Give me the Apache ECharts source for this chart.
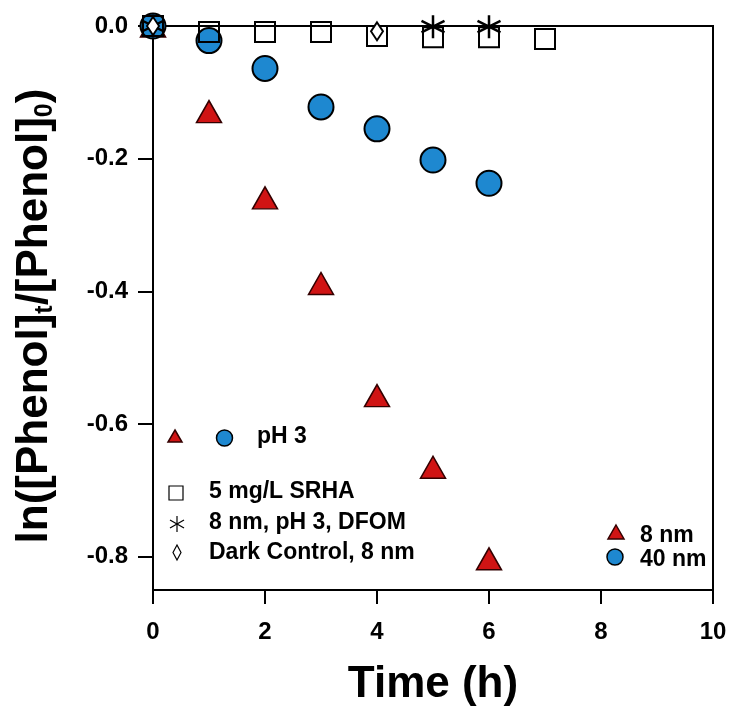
<!DOCTYPE html>
<html>
<head>
<meta charset="utf-8">
<script src="https://cdn.jsdelivr.net/npm/echarts@6/dist/echarts.min.js"></script>
<style>
html,body{margin:0;padding:0;background:#fff;}
#chart{width:732px;height:712px;}
</style>
</head>
<body>
<div id="chart"></div>
<script>
// ---- data ----
var time8nm = [0, 1, 2, 3, 4, 5, 6];
var lnRatio8nm = [0, -0.129, -0.259, -0.388, -0.557, -0.665, -0.803];
var time40nm = [0, 1, 2, 3, 4, 5, 6];
var lnRatio40nm = [0, -0.022, -0.064, -0.122, -0.155, -0.202, -0.237];
var timeSRHA = [0, 1, 2, 3, 4, 5, 6, 7];
var lnRatioSRHA = [0, -0.009, -0.009, -0.009, -0.015, -0.017, -0.017, -0.0195];
var timeDFOM = [0, 5, 6];
var lnRatioDFOM = [0, -0.001, -0.001];
var timeDark = [0, 4];
var lnRatioDark = [0, -0.008];
var xTicks = [0, 2, 4, 6, 8, 10];
var yTicks = [0, -0.2, -0.4, -0.6, -0.8];

function pairs(xs, ys){ return xs.map(function(x,i){ return [x, ys[i]]; }); }

var FONT = '"Liberation Sans", Arial, sans-serif';
var BLUE = '#1e88d0';
var RED = '#d01414';
var asteriskPath = 'path://M10,0L10,20M1.34,5L18.66,15M1.34,15L18.66,5';

var chart = echarts.init(document.getElementById('chart'), null, {renderer:'canvas'});
var option = {
  animation: false,
  backgroundColor: '#fff',
  grid: {left:153, right:19, top:26, bottom:120, show:true, borderColor:'#000', borderWidth:2, backgroundColor:'transparent'},
  xAxis: {
    type:'value', min:0, max:10, interval:2,
    axisLine:{show:true, onZero:false, lineStyle:{color:'#000', width:2}},
    axisTick:{show:true, inside:false, length:14, lineStyle:{color:'#000', width:2}},
    axisLabel:{color:'#000', fontSize:24, fontWeight:'bold', fontFamily:FONT, margin:30},
    splitLine:{show:false},
    name:'Time (h)', nameLocation:'middle', nameGap:73,
    nameTextStyle:{color:'#000', fontSize:44, fontWeight:'bold', fontFamily:FONT}
  },
  yAxis: {
    type:'value', min:-0.85, max:0,
    axisLine:{show:true, onZero:false, lineStyle:{color:'#000', width:2}},
    axisTick:{show:true, inside:false, length:15, customValues:yTicks, lineStyle:{color:'#000', width:2}},
    axisLabel:{color:'#000', fontSize:24, fontWeight:'bold', fontFamily:FONT, margin:25, customValues:yTicks,
      formatter:function(v){ return v.toFixed(1); }},
    splitLine:{show:false},
    name:'{a|ln([Phenol]}{s|t}{a|/[Phenol]}{s|0}{a|)}',
    nameLocation:'middle', nameGap:95,
    nameTextStyle:{color:'#000', fontFamily:FONT, fontWeight:'bold', fontSize:44, padding:[0,16,0,0],
      rich:{
        a:{fontSize:44, fontWeight:'bold', fontFamily:FONT, color:'#000', lineHeight:46},
        s:{fontSize:25, fontWeight:'bold', fontFamily:FONT, color:'#000', lineHeight:18, verticalAlign:'bottom'}
      }}
  },
  series: [
    {name:'8 nm', type:'scatter', data:pairs(time8nm, lnRatio8nm), symbol:'triangle', symbolSize:[25,22],
     itemStyle:{color:RED, borderColor:'#300', borderWidth:1.5, opacity:1}, z:2},
    {name:'40 nm', type:'scatter', data:pairs(time40nm, lnRatio40nm), symbol:'circle', symbolSize:25,
     itemStyle:{color:BLUE, borderColor:'#000', borderWidth:2, opacity:1}, z:3},
    {name:'5 mg/L SRHA', type:'scatter', data:pairs(timeSRHA, lnRatioSRHA), symbol:'rect', symbolSize:20,
     itemStyle:{color:'rgba(0,0,0,0)', borderColor:'#000', borderWidth:2, opacity:1}, z:4},
    {name:'8 nm, pH 3, DFOM', type:'scatter', data:pairs(timeDFOM, lnRatioDFOM), symbol:asteriskPath, symbolSize:23,
     itemStyle:{color:'rgba(0,0,0,0)', borderColor:'#000', borderWidth:2.5, opacity:1}, z:5},
    {name:'Dark Control, 8 nm', type:'scatter', data:pairs(timeDark, lnRatioDark), symbol:'diamond', symbolSize:[12,18],
     itemStyle:{color:'#fff', borderColor:'#000', borderWidth:2, opacity:1}, z:6}
  ],
  graphic: [
    // legend block (left)
    {type:'polygon', shape:{points:[[175,430],[182,442],[168,442]]}, style:{fill:RED, stroke:'#300', lineWidth:1.5}},
    {type:'circle', shape:{cx:224.5, cy:438, r:8}, style:{fill:BLUE, stroke:'#000', lineWidth:1.5}},
    {type:'text', x:257, y:437, style:{text:'pH 3', font:'bold 23px '+FONT, fill:'#000', verticalAlign:'middle', align:'left'}},
    {type:'rect', shape:{x:169, y:486, width:14, height:14}, style:{fill:'#fff', stroke:'#000', lineWidth:1.2}},
    {type:'text', x:209, y:492, style:{text:'5 mg/L SRHA', font:'bold 23px '+FONT, fill:'#000', verticalAlign:'middle', align:'left'}},
    {type:'group', children:[
      {type:'line', shape:{x1:177, y1:516, x2:177, y2:532}, style:{stroke:'#000', lineWidth:1.2}},
      {type:'line', shape:{x1:170, y1:520, x2:184, y2:528}, style:{stroke:'#000', lineWidth:1.2}},
      {type:'line', shape:{x1:170, y1:528, x2:184, y2:520}, style:{stroke:'#000', lineWidth:1.2}}
    ]},
    {type:'text', x:209, y:523, style:{text:'8 nm, pH 3, DFOM', font:'bold 23px '+FONT, fill:'#000', verticalAlign:'middle', align:'left'}},
    {type:'polygon', shape:{points:[[177,545],[181,552.5],[177,560],[173,552.5]]}, style:{fill:'#fff', stroke:'#000', lineWidth:1.2}},
    {type:'text', x:209, y:553, style:{text:'Dark Control, 8 nm', font:'bold 23px '+FONT, fill:'#000', verticalAlign:'middle', align:'left'}},
    // legend block (right)
    {type:'polygon', shape:{points:[[616,525],[624,539],[608,539]]}, style:{fill:RED, stroke:'#300', lineWidth:1.5}},
    {type:'circle', shape:{cx:615, cy:557, r:8}, style:{fill:BLUE, stroke:'#000', lineWidth:1.5}},
    {type:'text', x:640, y:536, style:{text:'8 nm', font:'bold 23px '+FONT, fill:'#000', verticalAlign:'middle', align:'left'}},
    {type:'text', x:640, y:560, style:{text:'40 nm', font:'bold 23px '+FONT, fill:'#000', verticalAlign:'middle', align:'left'}}
  ]
};
chart.setOption(option);
</script>
</body>
</html>
